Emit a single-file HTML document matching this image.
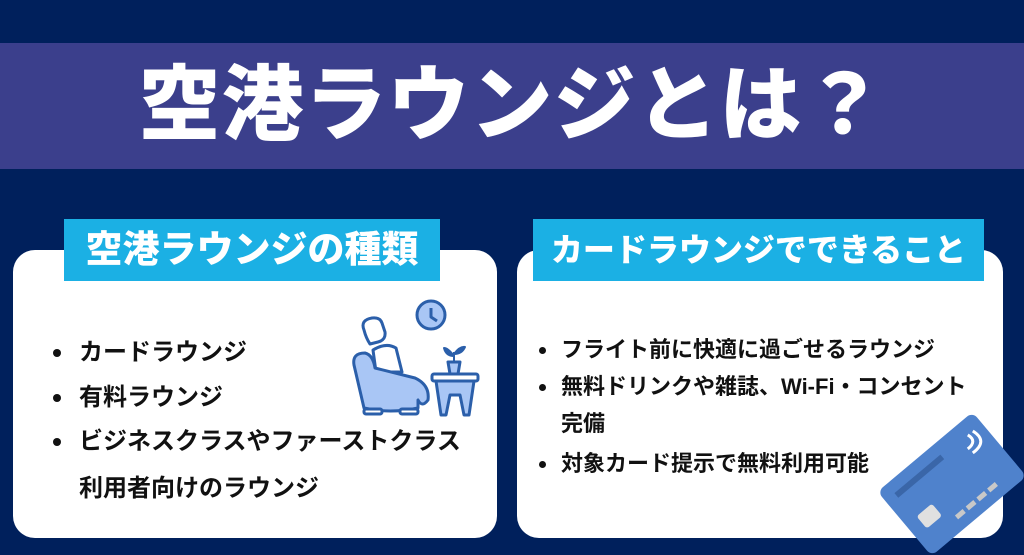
<!DOCTYPE html><html><head><meta charset="utf-8"><style>
*{margin:0;padding:0;box-sizing:border-box}
body{width:1024px;height:555px;background:#00205c;position:relative;overflow:hidden;font-family:"Liberation Sans","Noto Sans CJK JP",sans-serif;font-weight:bold}
.band{position:absolute;left:0;top:43px;width:1024px;height:126px;background:#3b3f8c}
.title{position:absolute;left:0;top:43px;width:1024px;height:126px;line-height:126px;text-align:center;color:#fff;font-size:82px;font-weight:900;letter-spacing:1px}
.box{position:absolute;background:#fff;border-radius:22px}
.tag{position:absolute;background:#1bb0e4;color:#fff;text-align:center;font-weight:900;white-space:nowrap}
.t{position:absolute;color:#111;white-space:nowrap}
.dot{position:absolute;width:8px;height:8px;border-radius:50%;background:#111}
</style></head><body>
<div class="band"></div>
<div class="title">空港ラウンジとは？</div>
<div class="box" style="left:13px;top:250px;width:484px;height:288px"></div>
<div class="box" style="left:517px;top:250px;width:486px;height:288px"></div>
<div class="tag" style="left:64px;top:219px;width:376px;height:62px;line-height:62px;font-size:37px">空港ラウンジの種類</div>
<div class="tag" style="left:533px;top:219px;width:451px;height:62px;line-height:62px;font-size:32px">カードラウンジでできること</div>

<div class="dot" style="left:53px;top:349px"></div>
<div class="t" style="left:79px;top:336px;font-size:24px;line-height:34px">カードラウンジ</div>
<div class="dot" style="left:53px;top:394px"></div>
<div class="t" style="left:79px;top:381px;font-size:24px;line-height:34px">有料ラウンジ</div>
<div class="dot" style="left:53px;top:438px"></div>
<div class="t" style="left:79px;top:425px;font-size:24px;line-height:34px">ビジネスクラスやファーストクラス</div>
<div class="t" style="left:79px;top:472px;font-size:24px;line-height:34px">利用者向けのラウンジ</div>

<div class="dot" style="left:539px;top:347px;width:7px;height:7px"></div>
<div class="t" style="left:561px;top:335px;font-size:22px;line-height:30px">フライト前に快適に過ごせるラウンジ</div>
<div class="dot" style="left:539px;top:384px;width:7px;height:7px"></div>
<div class="t" style="left:561px;top:372px;font-size:22px;line-height:30px">無料ドリンクや雑誌、Wi-Fi・コンセント</div>
<div class="t" style="left:561px;top:409px;font-size:22px;line-height:30px">完備</div>
<div class="dot" style="left:539px;top:461px;width:7px;height:7px"></div>
<div class="t" style="left:561px;top:449px;font-size:22px;line-height:30px">対象カード提示で無料利用可能</div>

<svg style="position:absolute;left:340px;top:290px" width="160" height="140" viewBox="0 0 160 140">
<g stroke="#2b5faa" stroke-width="3" stroke-linejoin="round" fill="#a9c6f5">
<circle cx="91" cy="25" r="14"/>
<path d="M91 18 V27 L97 31" fill="none"/>
<path d="M24 40 Q20 30 32 28 Q40 27 42 33 L45 42 Q46 50 38 52 L30 54 Q26 48 24 40Z" fill="#fff"/>
<path d="M33 60 Q46 52 56 58 L62 82 L36 82Z" fill="#fff"/>
<path d="M14 75 Q12 63 25 63 Q33 65 35 78 L75 88 Q90 95 88 110 Q82 118 78 110 L78 118 Q50 124 24 118 Z"/>
<rect x="24" y="119" width="18" height="5" rx="2" fill="#fff"/>
<rect x="60" y="119" width="18" height="5" rx="2" fill="#fff"/>
<rect x="92" y="84" width="46" height="7" rx="2" fill="#fff"/>
<path d="M96 91 H134 L129 125 L124 125 L120 105 H110 L106 125 L101 125Z"/>
<path d="M108 72 H120 L118 84 H110Z"/>
<path d="M114 72 V62 M114 66 Q108 58 104 58 Q106 66 114 66 M114 64 Q120 56 125 57 Q122 64 114 64" fill="#2b5faa" stroke-width="2"/>
</g></svg>

<svg style="position:absolute;left:870px;top:400px" width="154" height="155" viewBox="0 0 154 155">
<g transform="translate(82,84) rotate(-40)">
<rect x="-62" y="-42" width="124" height="84" rx="7" fill="#4f82cc"/>
<rect x="-50" y="-30" width="60" height="6" fill="#3a66a8"/>
<rect x="-48" y="2" width="20" height="16" rx="3" fill="#e0e0e0"/>
<rect x="-18" y="26" width="10" height="5" fill="#c8c8c8"/>
<rect x="-4" y="26" width="10" height="5" fill="#c8c8c8"/>
<rect x="10" y="26" width="10" height="5" fill="#c8c8c8"/>
<rect x="24" y="26" width="10" height="5" fill="#c8c8c8"/>
<path d="M38 -28 q10 6 0 14 M43 -32 q16 10 0 22" stroke="#fff" stroke-width="3" fill="none" transform="rotate(40 40 -20)"/>
</g></svg>
</body></html>
